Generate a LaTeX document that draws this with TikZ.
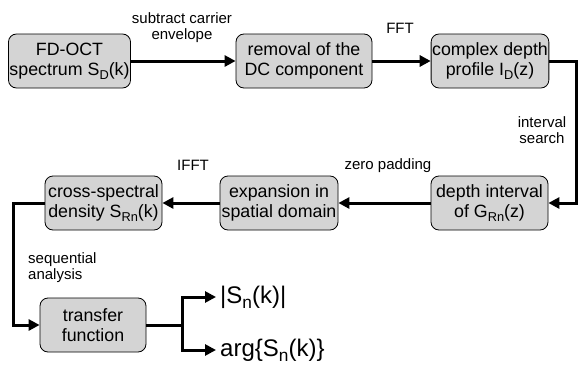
\documentclass[tikz,border=0pt]{standalone}
\usepackage{fontspec}
\setmainfont{Liberation Sans}
\usetikzlibrary{arrows.meta}

\newcommand{\lowsub}[1]{\raisebox{-0.4ex}{\scalebox{0.72}{#1}}}

\tikzset{
  stepbox/.style={draw, rounded corners=8pt, fill=black!17, line width=0.8pt,
    minimum height=54pt, inner sep=1pt, align=center, font=\fontsize{17.8}{20.5}\selectfont},
  lbl/.style={align=center, inner sep=0pt, font=\fontsize{15}{16}\selectfont},
  outlbl/.style={anchor=west, inner xsep=4pt, inner ysep=0pt, font=\fontsize{24}{28}\selectfont},
  flow/.style={line width=3pt, -{Triangle[length=11pt,width=11pt]}}
}

\begin{document}
\begin{tikzpicture}[x=1pt, y=-1pt]
	\useasboundingbox (0,0) rectangle (582,367);

	% first row
	\node[stepbox, minimum width=117pt] (spec) at (69.5,61) {FD-OCT\\spectrum S\lowsub{D}(k)};
	\node[stepbox, minimum width=136pt] (dc) at (304,61) {removal of the\\DC component};
	\node[stepbox, minimum width=116pt] (prof) at (490,61) {complex depth\\profile I\lowsub{D}(z)};

	% second row
	\node[stepbox, minimum width=117pt] (csd) at (103.5,203) {cross-spectral\\density S\lowsub{Rn}(k)};
	\node[stepbox, minimum width=118pt] (exp) at (279,203) {expansion in\\spatial domain};
	\node[stepbox, minimum width=117pt] (intv) at (489.5,203) {depth interval\\of G\lowsub{Rn}(z)};

	% last row
	\node[stepbox, minimum width=106pt] (tf) at (93,325) {transfer\\function};
	\node[outlbl] (mag) at (216,297) {|S\lowsub{n}(k)|};
	\node[outlbl] (arg) at (216,350) {arg\{S\lowsub{n}(k)\}};

	% labels
	\node[lbl] (l1) at (182,28) {subtract carrier\\envelope};
	\node[lbl] (l2) at (400,28) {FFT};
	\node[lbl] (l3) at (542,130) {interval\\search};
	\node[lbl] (l4) at (388,166) {zero padding};
	\node[lbl] (l5) at (193,165) {IFFT};
	\node[lbl, align=left, anchor=west] (l6) at (28,268) {sequential\\analysis};

	\draw[flow] (spec) -- (dc);
	\draw[flow] (dc) -- (prof);
	\draw[flow] (prof.east) -- ++(27,0) |- (intv.east);
	\draw[flow] (intv) -- (exp);
	\draw[flow] (exp) -- (csd);
	\draw[flow] (csd.west) -- ++(-31,0) |- (tf.west);
	\draw[flow] (tf.east) -- ++(36,0) |- (mag.west);
	\draw[flow] (tf.east) -- ++(36,0) |- (arg.west);
\end{tikzpicture}
\end{document}
